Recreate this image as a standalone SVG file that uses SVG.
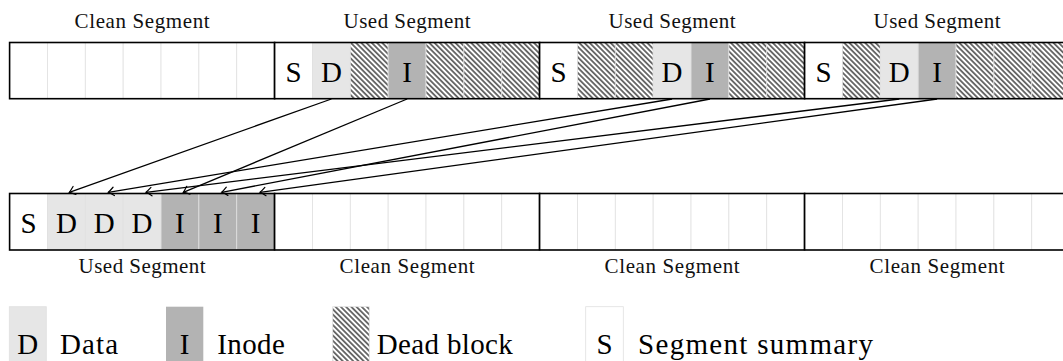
<svg xmlns="http://www.w3.org/2000/svg" width="1063" height="361" viewBox="0 0 1063 361">
  <style>
    .cell { stroke: #e0e0e0; stroke-width: 0.8; }
    .clean { fill: #ffffff; }
    .data { fill: #e6e6e6; }
    .inode { fill: #b3b3b3; }
    .dead { fill: url(#hatch); }
    .seg { fill: none; stroke: #000; stroke-width: 1.6; }
    .lbl { font-family: "Liberation Serif", "DejaVu Serif", serif; font-size: 21px; text-anchor: middle; fill: #111; }
    .glyph { font-family: "Liberation Serif", "DejaVu Serif", serif; font-size: 29px; text-anchor: middle; fill: #000; }
    .ltext { font-family: "Liberation Serif", "DejaVu Serif", serif; font-size: 29px; fill: #000; }
    .link { fill: none; stroke: #000; stroke-width: 1.3; marker-end: url(#tip); }
  </style>
  <defs>
    <!-- dead-block hatching: thin lines running top-left to bottom-right -->
    <pattern id="hatch" patternUnits="userSpaceOnUse" width="3.7" height="10" patternTransform="rotate(-45)">
      <rect width="3.7" height="10" fill="#fff"/>
      <line x1="1.85" y1="0" x2="1.85" y2="10" stroke="#000" stroke-width="1.1"/>
    </pattern>
    <!-- open arrow tip -->
    <marker id="tip" markerUnits="userSpaceOnUse" markerWidth="14" markerHeight="14" viewBox="-7 -7 14 14" refX="0" refY="0" orient="auto" overflow="visible">
      <path d="M-5.5,-4.2 Q-1.8,-1 0,0 Q-1.8,1 -5.5,4.2" fill="none" stroke="#000" stroke-width="1.2" stroke-linecap="round"/>
    </marker>
  </defs>

  <rect width="1063" height="361" fill="#fff"/>

  <!-- ===== upper row of segments ===== -->
  <g id="top-seg-1" transform="translate(9.6,42.5)">
    <rect class="cell clean" x="0" y="0" width="37.86" height="56.2"/>
    <rect class="cell clean" x="37.86" y="0" width="37.86" height="56.2"/>
    <rect class="cell clean" x="75.71" y="0" width="37.86" height="56.2"/>
    <rect class="cell clean" x="113.57" y="0" width="37.86" height="56.2"/>
    <rect class="cell clean" x="151.43" y="0" width="37.86" height="56.2"/>
    <rect class="cell clean" x="189.29" y="0" width="37.86" height="56.2"/>
    <rect class="cell clean" x="227.14" y="0" width="37.86" height="56.2"/>
    <rect class="seg" x="0" y="0" width="265" height="56.2"/>
    <text class="lbl" x="132.5" y="-14.5" textLength="135" lengthAdjust="spacing">Clean Segment</text>
  </g>

  <g id="top-seg-2" transform="translate(274.6,42.5)">
    <rect class="cell clean" x="0" y="0" width="37.86" height="56.2"/>
    <rect class="cell data" x="37.86" y="0" width="37.86" height="56.2"/>
    <rect class="cell dead" x="75.71" y="0" width="37.86" height="56.2"/>
    <rect class="cell inode" x="113.57" y="0" width="37.86" height="56.2"/>
    <rect class="cell dead" x="151.43" y="0" width="37.86" height="56.2"/>
    <rect class="cell dead" x="189.29" y="0" width="37.86" height="56.2"/>
    <rect class="cell dead" x="227.14" y="0" width="37.86" height="56.2"/>
    <rect class="seg" x="0" y="0" width="265" height="56.2"/>
    <text class="glyph" x="18.93" y="39.4">S</text>
    <text class="glyph" x="56.79" y="39.4">D</text>
    <text class="glyph" x="132.5" y="39.4">I</text>
    <text class="lbl" x="132.5" y="-14.5" textLength="127" lengthAdjust="spacing">Used Segment</text>
  </g>

  <g id="top-seg-3" transform="translate(539.6,42.5)">
    <rect class="cell clean" x="0" y="0" width="37.86" height="56.2"/>
    <rect class="cell dead" x="37.86" y="0" width="37.86" height="56.2"/>
    <rect class="cell dead" x="75.71" y="0" width="37.86" height="56.2"/>
    <rect class="cell data" x="113.57" y="0" width="37.86" height="56.2"/>
    <rect class="cell inode" x="151.43" y="0" width="37.86" height="56.2"/>
    <rect class="cell dead" x="189.29" y="0" width="37.86" height="56.2"/>
    <rect class="cell dead" x="227.14" y="0" width="37.86" height="56.2"/>
    <rect class="seg" x="0" y="0" width="265" height="56.2"/>
    <text class="glyph" x="18.93" y="39.4">S</text>
    <text class="glyph" x="132.5" y="39.4">D</text>
    <text class="glyph" x="170.36" y="39.4">I</text>
    <text class="lbl" x="132.5" y="-14.5" textLength="127" lengthAdjust="spacing">Used Segment</text>
  </g>

  <g id="top-seg-4" transform="translate(804.6,42.5)">
    <rect class="cell clean" x="0" y="0" width="37.86" height="56.2"/>
    <rect class="cell dead" x="37.86" y="0" width="37.86" height="56.2"/>
    <rect class="cell data" x="75.71" y="0" width="37.86" height="56.2"/>
    <rect class="cell inode" x="113.57" y="0" width="37.86" height="56.2"/>
    <rect class="cell dead" x="151.43" y="0" width="37.86" height="56.2"/>
    <rect class="cell dead" x="189.29" y="0" width="37.86" height="56.2"/>
    <rect class="cell dead" x="227.14" y="0" width="37.86" height="56.2"/>
    <rect class="seg" x="0" y="0" width="265" height="56.2"/>
    <text class="glyph" x="18.93" y="39.4">S</text>
    <text class="glyph" x="94.64" y="39.4">D</text>
    <text class="glyph" x="132.5" y="39.4">I</text>
    <text class="lbl" x="132.5" y="-14.5" textLength="127" lengthAdjust="spacing">Used Segment</text>
  </g>

  <!-- ===== lower row of segments ===== -->
  <g id="bottom-seg-1" transform="translate(9.6,193.5)">
    <rect class="cell clean" x="0" y="0" width="37.86" height="56.5"/>
    <rect class="cell data" x="37.86" y="0" width="37.86" height="56.5"/>
    <rect class="cell data" x="75.71" y="0" width="37.86" height="56.5"/>
    <rect class="cell data" x="113.57" y="0" width="37.86" height="56.5"/>
    <rect class="cell inode" x="151.43" y="0" width="37.86" height="56.5"/>
    <rect class="cell inode" x="189.29" y="0" width="37.86" height="56.5"/>
    <rect class="cell inode" x="227.14" y="0" width="37.86" height="56.5"/>
    <rect class="seg" x="0" y="0" width="265" height="56.5"/>
    <text class="glyph" x="18.93" y="39.5">S</text>
    <text class="glyph" x="56.79" y="39.5">D</text>
    <text class="glyph" x="94.64" y="39.5">D</text>
    <text class="glyph" x="132.5" y="39.5">D</text>
    <text class="glyph" x="170.36" y="39.5">I</text>
    <text class="glyph" x="208.21" y="39.5">I</text>
    <text class="glyph" x="246.07" y="39.5">I</text>
    <text class="lbl" x="132.5" y="79.5" textLength="127" lengthAdjust="spacing">Used Segment</text>
  </g>

  <g id="bottom-seg-2" transform="translate(274.6,193.5)">
    <rect class="cell clean" x="0" y="0" width="37.86" height="56.5"/>
    <rect class="cell clean" x="37.86" y="0" width="37.86" height="56.5"/>
    <rect class="cell clean" x="75.71" y="0" width="37.86" height="56.5"/>
    <rect class="cell clean" x="113.57" y="0" width="37.86" height="56.5"/>
    <rect class="cell clean" x="151.43" y="0" width="37.86" height="56.5"/>
    <rect class="cell clean" x="189.29" y="0" width="37.86" height="56.5"/>
    <rect class="cell clean" x="227.14" y="0" width="37.86" height="56.5"/>
    <rect class="seg" x="0" y="0" width="265" height="56.5"/>
    <text class="lbl" x="132.5" y="79.5" textLength="135" lengthAdjust="spacing">Clean Segment</text>
  </g>

  <g id="bottom-seg-3" transform="translate(539.6,193.5)">
    <rect class="cell clean" x="0" y="0" width="37.86" height="56.5"/>
    <rect class="cell clean" x="37.86" y="0" width="37.86" height="56.5"/>
    <rect class="cell clean" x="75.71" y="0" width="37.86" height="56.5"/>
    <rect class="cell clean" x="113.57" y="0" width="37.86" height="56.5"/>
    <rect class="cell clean" x="151.43" y="0" width="37.86" height="56.5"/>
    <rect class="cell clean" x="189.29" y="0" width="37.86" height="56.5"/>
    <rect class="cell clean" x="227.14" y="0" width="37.86" height="56.5"/>
    <rect class="seg" x="0" y="0" width="265" height="56.5"/>
    <text class="lbl" x="132.5" y="79.5" textLength="135" lengthAdjust="spacing">Clean Segment</text>
  </g>

  <g id="bottom-seg-4" transform="translate(804.6,193.5)">
    <rect class="cell clean" x="0" y="0" width="37.86" height="56.5"/>
    <rect class="cell clean" x="37.86" y="0" width="37.86" height="56.5"/>
    <rect class="cell clean" x="75.71" y="0" width="37.86" height="56.5"/>
    <rect class="cell clean" x="113.57" y="0" width="37.86" height="56.5"/>
    <rect class="cell clean" x="151.43" y="0" width="37.86" height="56.5"/>
    <rect class="cell clean" x="189.29" y="0" width="37.86" height="56.5"/>
    <rect class="cell clean" x="227.14" y="0" width="37.86" height="56.5"/>
    <rect class="seg" x="0" y="0" width="265" height="56.5"/>
    <text class="lbl" x="132.5" y="79.5" textLength="135" lengthAdjust="spacing">Clean Segment</text>
  </g>

  <!-- ===== live blocks copied into the new segment ===== -->
  <g id="connectors">
    <line class="link" x1="331.4" y1="99" x2="69.3" y2="192.3"/>
    <line class="link" x1="407.1" y1="99" x2="183.3" y2="192.3"/>
    <line class="link" x1="672.1" y1="99" x2="108.3" y2="192.3"/>
    <line class="link" x1="710" y1="99" x2="221.7" y2="192.3"/>
    <line class="link" x1="899.3" y1="99" x2="146" y2="192.3"/>
    <line class="link" x1="937.1" y1="99" x2="260" y2="192.3"/>
  </g>

  <!-- ===== legend ===== -->
  <g id="legend-data">
    <rect class="cell data" x="9.3" y="306.7" width="37" height="64"/>
    <text class="glyph" x="27.8" y="353.5">D</text>
    <text class="ltext" x="60" y="353.5" textLength="58" lengthAdjust="spacing">Data</text>
  </g>
  <g id="legend-inode">
    <rect class="inode" x="166" y="306.7" width="37.3" height="64"/>
    <text class="glyph" x="184.6" y="353.5">I</text>
    <text class="ltext" x="217.3" y="353.5" textLength="67.5" lengthAdjust="spacing">Inode</text>
  </g>
  <g id="legend-dead">
    <rect class="cell dead" x="332.7" y="306.7" width="36.6" height="64"/>
    <text class="ltext" x="376.7" y="353.5" textLength="136" lengthAdjust="spacing">Dead block</text>
  </g>
  <g id="legend-summary">
    <rect class="cell clean" x="585.7" y="306.7" width="37.6" height="64"/>
    <text class="glyph" x="604.5" y="353.5">S</text>
    <text class="ltext" x="638" y="353.5" textLength="235" lengthAdjust="spacing">Segment summary</text>
  </g>
</svg>
